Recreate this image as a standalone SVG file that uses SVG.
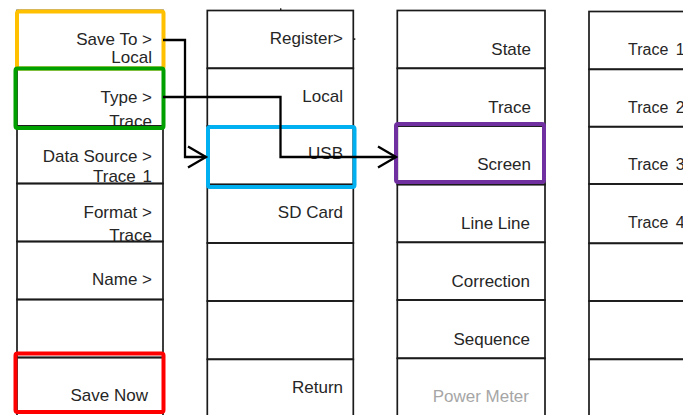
<svg xmlns="http://www.w3.org/2000/svg" width="683" height="415" viewBox="0 0 683 415">
<style>
.cell{fill:none;stroke:#1a1a1a;stroke-width:1.7}
.t{font-family:"Liberation Sans",Arial,sans-serif;font-size:17px;fill:#262626}
.e{text-anchor:end}
.t4{font-size:16px;word-spacing:3px}
.dim{fill:#a6a6a6}
.hl{fill:none;stroke-width:4;stroke-linejoin:round}
.conn{fill:none;stroke:#000;stroke-width:2.3}
</style>
<defs>
<marker id="chev" markerUnits="userSpaceOnUse" viewBox="-21 -13 24 26" markerWidth="24" markerHeight="26" refX="0" refY="0" orient="auto">
<path d="M-18,-10.5 L0,0 L-18,10.5" fill="none" stroke="#000" stroke-width="2.3"/>
</marker>
</defs>
<rect width="683" height="415" fill="#fff"/>

<!-- Column 1 -->
<g id="save-to"><rect class="cell" x="17" y="10.5" width="146" height="57.5"/><text class="t e" x="152" y="45">Save To &gt;</text><text class="t e" x="152" y="63">Local</text></g>
<g id="type"><rect class="cell" x="17" y="68" width="146" height="58"/><text class="t e" x="152" y="103">Type &gt;</text><text class="t e" x="152" y="127">Trace</text></g>
<g id="data-source"><rect class="cell" x="17" y="126" width="146" height="57.5"/><text class="t e" x="152" y="162">Data Source &gt;</text><text class="t e" x="152" y="182" style="word-spacing:2px">Trace 1</text></g>
<g id="format"><rect class="cell" x="17" y="183.5" width="146" height="58"/><text class="t e" x="152" y="218">Format &gt;</text><text class="t e" x="152" y="241">Trace</text></g>
<g id="name"><rect class="cell" x="17" y="241.5" width="146" height="58"/><text class="t e" x="152" y="285">Name &gt;</text></g>
<g id="blank1"><rect class="cell" x="17" y="299.5" width="146" height="58"/></g>
<g id="save-now"><rect class="cell" x="17" y="357.5" width="146" height="60"/><text class="t e" x="148" y="401">Save Now</text></g>

<!-- Column 2 -->
<g id="register"><rect class="cell" x="207.3" y="10.5" width="146" height="57.8"/><text class="t e" x="343" y="43.5">Register&gt;</text><rect x="280" y="8.3" width="1.4" height="2" fill="#1a1a1a"/><rect x="353.3" y="38.3" width="2" height="1.6" fill="#1a1a1a"/></g>
<g id="local"><rect class="cell" x="207.3" y="68.3" width="146" height="57.7"/><text class="t e" x="343" y="102">Local</text></g>
<g id="usb"><rect class="cell" x="207.3" y="126" width="146" height="58.5"/><text class="t e" x="343" y="159">USB</text></g>
<g id="sd-card"><rect class="cell" x="207.3" y="184.5" width="146" height="58.5"/><text class="t e" x="343" y="217.5">SD Card</text></g>
<g id="blank2"><rect class="cell" x="207.3" y="243" width="146" height="58"/></g>
<g id="blank3"><rect class="cell" x="207.3" y="301" width="146" height="58.3"/></g>
<g id="return"><rect class="cell" x="207.3" y="359.3" width="146" height="60"/><text class="t e" x="343" y="393">Return</text></g>

<!-- Column 3 -->
<g id="state"><rect class="cell" x="397.3" y="10.5" width="147.7" height="57.8"/><text class="t e" x="531" y="55">State</text></g>
<g id="trace"><rect class="cell" x="397.3" y="68.3" width="147.7" height="57.7"/><text class="t e" x="531" y="113">Trace</text></g>
<g id="screen"><rect class="cell" x="397.3" y="126" width="147.7" height="58.5"/><text class="t e" x="531" y="169.5">Screen</text></g>
<g id="line-line"><rect class="cell" x="397.3" y="184.5" width="147.7" height="57.8"/><text class="t e" x="530" y="228.5">Line Line</text></g>
<g id="correction"><rect class="cell" x="397.3" y="242.3" width="147.7" height="57.7"/><text class="t e" x="530" y="287">Correction</text></g>
<g id="sequence"><rect class="cell" x="397.3" y="300" width="147.7" height="58.3"/><text class="t e" x="530" y="344.5">Sequence</text></g>
<g id="power-meter"><rect class="cell" x="397.3" y="358.3" width="147.7" height="60"/><text class="t e dim" x="529" y="402">Power Meter</text></g>

<!-- Column 4 -->
<g id="trace1"><rect class="cell" x="589" y="11.5" width="150" height="57.8"/><text class="t t4" x="628" y="55">Trace 1</text></g>
<g id="trace2"><rect class="cell" x="589" y="69.3" width="150" height="57.4"/><text class="t t4" x="628" y="113">Trace 2</text></g>
<g id="trace3"><rect class="cell" x="589" y="126.7" width="150" height="57.3"/><text class="t t4" x="628" y="170">Trace 3</text></g>
<g id="trace4"><rect class="cell" x="589" y="184" width="150" height="59.3"/><text class="t t4" x="628" y="228">Trace 4</text></g>
<g id="blank4"><rect class="cell" x="589" y="243.3" width="150" height="57.7"/></g>
<g id="blank5"><rect class="cell" x="589" y="301" width="150" height="58.3"/></g>
<g id="blank6"><rect class="cell" x="589" y="359.3" width="150" height="60"/></g>

<!-- Highlights -->
<g id="highlights">
<rect class="hl" x="17" y="11.5" width="146.5" height="57" rx="2" stroke="#FFC000"/>
<rect class="hl" x="15.5" y="68.5" width="148" height="59.5" rx="2" stroke="#00A000"/>
<rect class="hl" x="208" y="127" width="146.5" height="60" rx="2" stroke="#00B0F0"/>
<rect class="hl" x="396" y="124" width="148" height="58" rx="2" stroke="#7030A0"/>
<rect class="hl" x="15.5" y="353.5" width="148" height="58.5" rx="2" stroke="#FF0000"/>
</g>

<!-- Connectors -->
<g id="connectors">
<path class="conn" d="M163,40 H185 V157 H206" marker-end="url(#chev)"/>
<path class="conn" d="M163,97 H280.5 V157 H396" marker-end="url(#chev)"/>
</g>
</svg>
